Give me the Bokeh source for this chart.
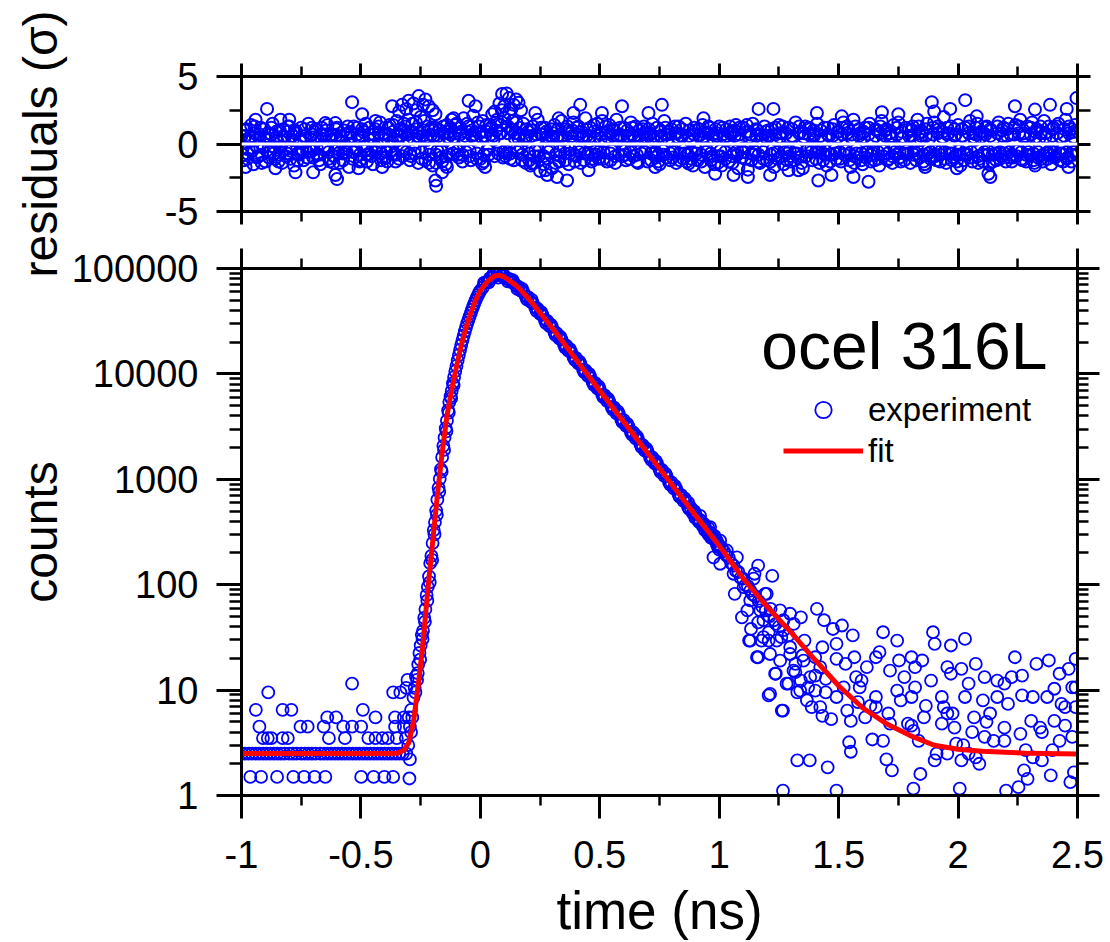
import sys
import math
from bokeh.plotting import figure
from bokeh.models import (Range1d, LinearAxis, LogAxis, FixedTicker,
                          CustomJSTickFormatter, ColumnDataSource, Legend,
                          LegendItem, Label, Span)
from bokeh.layouts import column, row
from bokeh.embed import file_html
from bokeh.resources import INLINE

FONT = "Liberation Sans"
BLUE = "#0000FF"
RED = "#FF0000"

# ---------------- axis ticks ----------------
x_ticks = [-1, -0.5, 0, 0.5, 1, 1.5, 2, 2.5]
x_minor = [-0.75, -0.25, 0.25, 0.75, 1.25, 1.75, 2.25]
res_ticks = [-5, 0, 5]
res_minor = [-2.5, 2.5]
count_ticks = [1, 10, 100, 1000, 10000, 100000]
count_minor = [2, 3, 4, 5, 6, 7, 8, 9, 20, 30, 40, 50, 60, 70, 80, 90,
               200, 300, 400, 500, 600, 700, 800, 900,
               2000, 3000, 4000, 5000, 6000, 7000, 8000, 9000,
               20000, 30000, 40000, 50000, 60000, 70000, 80000, 90000]

# ---------------- fit curve ----------------
fit_t = [-1.0, -0.4, -0.35, -0.32, -0.30, -0.28, -0.26, -0.24, -0.22, -0.20,
         -0.18, -0.16, -0.14, -0.12, -0.10, -0.08, -0.06, -0.04, -0.02, 0.0,
         0.03, 0.06, 0.08, 0.10, 0.15, 0.20, 0.25, 0.30, 0.40, 0.50,
         0.60, 0.70, 0.80, 0.90, 1.00, 1.10, 1.20, 1.30, 1.40, 1.50,
         1.60, 1.70, 1.80, 1.90, 2.00, 2.10, 2.20, 2.30, 2.50]
fit_c = [2.5, 2.5, 2.51, 2.69, 3.16, 5.0, 11.2, 28.2, 89, 251,
         708, 1778, 3981, 7079, 11749, 18621, 27542, 38019, 50119, 61660,
         75858, 85114, 86100, 83176, 69183, 52481, 38019, 27542, 13804, 6918,
         3508, 1778, 902, 457, 234, 115, 62, 35.5, 19.5, 11.0,
         6.8, 4.8, 3.7, 3.0, 2.75, 2.63, 2.57, 2.51, 2.48]

# ---------------- experiment: flat pre-peak region ----------------
flat_t = [-1.000, -0.985, -0.970, -0.955, -0.940, -0.925, -0.910, -0.895, -0.880, -0.865,
          -0.850, -0.835, -0.820, -0.800, -0.785, -0.770, -0.750, -0.735, -0.720, -0.705,
          -0.690, -0.670, -0.655, -0.640, -0.625, -0.610, -0.595, -0.580, -0.565, -0.550,
          -0.535, -0.520, -0.505, -0.490, -0.475, -0.460, -0.445, -0.430, -0.415, -0.400,
          -0.385, -0.370, -0.355, -0.340, -0.325, -0.310,
          -0.963, -0.918, -0.851, -0.783, -0.738, -0.694, -0.649, -0.499, -0.447, -0.402, -0.365, -0.297,
          -0.910, -0.890, -0.875, -0.828, -0.806, -0.634, -0.567, -0.469, -0.439, -0.410, -0.387, -0.350,
          -0.925, -0.753, -0.723, -0.656, -0.574, -0.537, -0.499, -0.357, -0.320,
          -0.641, -0.604, -0.439, -0.357, -0.320,
          -0.940, -0.828, -0.791, -0.492,
          -0.888, -0.365, -0.335,
          -0.537,
          -0.305, -0.310, -0.300, -0.295, -0.302, -0.290, -0.312]
flat_c = [2.5, 2.5, 2.5, 2.5, 2.5, 2.5, 2.5, 2.5, 2.5, 2.5,
          2.5, 2.5, 2.5, 2.5, 2.5, 2.5, 2.5, 2.5, 2.5, 2.5,
          2.5, 2.5, 2.5, 2.5, 2.5, 2.5, 2.5, 2.5, 2.5, 2.5,
          2.5, 2.5, 2.5, 2.5, 2.5, 2.5, 2.5, 2.5, 2.5, 2.5,
          2.5, 2.5, 2.5, 2.5, 2.5, 2.5,
          1.5, 1.5, 1.5, 1.5, 1.5, 1.5, 1.5, 1.5, 1.5, 1.5, 1.5, 1.45,
          3.5, 3.5, 3.5, 3.5, 3.5, 3.5, 3.5, 3.5, 3.5, 3.5, 3.5, 3.5,
          4.5, 4.5, 4.5, 4.5, 4.5, 4.5, 4.5, 4.5, 4.5,
          5.5, 5.5, 5.5, 5.5, 5.5,
          6.5, 6.5, 6.5, 6.5,
          9.5, 9.5, 9.5,
          11.5,
          12.5, 10.5, 5.5, 2.2, 3.0, 4.0, 3.5]

# ---------------- experiment: rising edge ----------------
rise_t = [-0.295, -0.290, -0.285, -0.280, -0.275, -0.270, -0.265, -0.260, -0.255, -0.250,
          -0.245, -0.240, -0.235, -0.230, -0.225, -0.220, -0.215, -0.210, -0.205, -0.200,
          -0.195, -0.190, -0.185, -0.180, -0.175, -0.170, -0.165, -0.160, -0.155, -0.150,
          -0.145, -0.140, -0.135, -0.130, -0.125, -0.120, -0.115, -0.110, -0.105, -0.100,
          -0.095, -0.090, -0.085, -0.080, -0.075, -0.070, -0.065, -0.060, -0.055, -0.050,
          -0.045, -0.040, -0.035, -0.030, -0.025, -0.020, -0.015, -0.010, -0.005, 0.000,
          -0.272, -0.262, -0.252, -0.242, -0.232, -0.222, -0.212, -0.202, -0.192, -0.182,
          -0.172, -0.162, -0.152, -0.142, -0.132, -0.122, -0.112]
rise_c = [4.5, 6.5, 5.5, 8.5, 10.5, 13.5, 12.5, 17.5, 22.5, 26.5,
          33.5, 36.5, 48.5, 58.5, 79.5, 95.5, 120, 160, 188, 248,
          330, 392, 505, 640, 830, 1010, 1240, 1620, 2080, 2480,
          3050, 3600, 4500, 5400, 6120, 6900, 8150, 9300, 10600, 11900,
          13400, 15100, 16900, 18800, 20900, 23000, 25300, 27600, 30100, 32500,
          35100, 37900, 40800, 43600, 46700, 49800, 53000, 56000, 58900, 61500,
          9.5, 14.5, 19.5, 30.5, 44.5, 70.5, 105, 172, 300, 460,
          760, 1180, 1900, 2850, 4300, 5900, 7800]

# ---------------- experiment: peak and exponential decay ----------------
band_t = [0.01, 0.02, 0.03, 0.04, 0.05, 0.06, 0.07, 0.08, 0.09, 0.10,
          0.11, 0.12, 0.13, 0.14, 0.15, 0.16, 0.17, 0.18, 0.19, 0.20,
          0.21, 0.22, 0.23, 0.24, 0.25, 0.26, 0.27, 0.28, 0.29, 0.30,
          0.31, 0.32, 0.33, 0.34, 0.35, 0.36, 0.37, 0.38, 0.39, 0.40,
          0.41, 0.42, 0.43, 0.44, 0.45, 0.46, 0.47, 0.48, 0.49, 0.50,
          0.51, 0.52, 0.53, 0.54, 0.55, 0.56, 0.57, 0.58, 0.59, 0.60,
          0.61, 0.62, 0.63, 0.64, 0.65, 0.66, 0.67, 0.68, 0.69, 0.70,
          0.71, 0.72, 0.73, 0.74, 0.75, 0.76, 0.77, 0.78, 0.79, 0.80,
          0.81, 0.82, 0.83, 0.84, 0.85, 0.86, 0.87, 0.88, 0.89, 0.90,
          0.91, 0.92, 0.93, 0.94, 0.95, 0.96, 0.97, 0.98, 0.99, 1.00]
band_c = [66000, 73500, 75500, 81000, 82500, 86500, 86000, 88000, 84500, 84500,
          80000, 79500, 74500, 73500, 68500, 67000, 61500, 60000, 54500, 53500,
          48500, 47000, 42500, 41500, 37200, 36300, 32500, 31800, 28400, 27900,
          24800, 24300, 21700, 21200, 19000, 18500, 16500, 16200, 14400, 14200,
          12600, 12400, 11000, 10800, 9600, 9420, 8380, 8230, 7300, 7180,
          6360, 6260, 5550, 5470, 4850, 4780, 4230, 4180, 3690, 3640,
          3220, 3180, 2810, 2780, 2450, 2420, 2140, 2110, 1860, 1850,
          1620, 1610, 1420, 1410, 1240, 1230, 1080, 1070, 940, 935,
          820, 815, 715, 712, 625, 620, 545, 542, 475, 472,
          415, 412, 362, 360, 316, 314, 276, 273, 241, 238]
band2_t = [0.015, 0.035, 0.055, 0.075, 0.095, 0.115, 0.135, 0.155, 0.175, 0.195,
           0.215, 0.235, 0.255, 0.275, 0.295, 0.315, 0.335, 0.355, 0.375, 0.395,
           0.415, 0.435, 0.455, 0.475, 0.495, 0.515, 0.535, 0.555, 0.575, 0.595,
           0.615, 0.635, 0.655, 0.675, 0.695, 0.715, 0.735, 0.755, 0.775, 0.795,
           0.815, 0.835, 0.855, 0.875, 0.895, 0.915, 0.935, 0.955, 0.975, 0.995,
           0.870, 0.900, 0.920, 0.940, 0.955, 0.965, 0.980, 0.990, 1.000]
band2_c = [73000, 74000, 89000, 82000, 89000, 75500, 77500, 64000, 64000, 51000,
           50300, 39700, 38500, 30400, 29400, 23300, 22500, 17800, 17200, 13600,
           13100, 10400, 9990, 7890, 7600, 6020, 5790, 4570, 4410, 3480,
           3360, 2660, 2560, 2020, 1950, 1530, 1490, 1170, 1130, 890,
           860, 680, 660, 520, 500, 395, 380, 300, 290, 228,
           600, 430, 450, 330, 345, 280, 290, 262, 215]

# ---------------- experiment: tail near the curve ----------------
tailB_t = [1.01, 1.02, 1.03, 1.04, 1.05, 1.06, 1.07, 1.08, 1.09, 1.10,
           1.11, 1.12, 1.13, 1.14, 1.15, 1.165, 1.18, 1.195, 1.21, 1.23,
           1.25, 1.27, 1.29,
           0.962, 1.004, 1.032, 1.074, 0.976, 1.004, 1.060, 1.144, 1.102, 1.199,
           1.130, 1.172, 1.255, 1.269, 1.185, 1.130, 1.185, 1.241, 1.158, 1.213,
           1.255, 1.297, 1.353, 1.311, 1.234, 1.290, 1.381, 1.423, 1.339, 1.367,
           1.423, 1.213, 1.262]
tailB_c = [222, 207, 190, 181, 160, 152, 135, 132, 116, 114,
           99, 97, 88, 81, 78, 70, 62, 57, 50, 46,
           40, 37, 33,
           352, 262, 211, 182, 182, 158, 127, 114, 95, 82,
           71, 57, 57, 46, 46, 29.5, 31.8, 29.5, 20.5, 22,
           19, 22, 19, 15.3, 14.3, 11.5, 13.3, 16.5, 9.9, 8.0,
           6.9, 9.2, 6.4]

# ---------------- experiment: scattered tail ----------------
tail_t = [1.163, 1.222, 1.148, 1.192, 1.065, 1.095, 1.118, 1.125, 1.163, 1.207,
          1.237, 1.207, 1.267, 1.282, 1.327, 1.319, 1.297, 1.342, 1.297, 1.357,
          1.409, 1.439, 1.476, 1.514, 1.559, 1.491, 1.432, 1.491, 1.566, 1.402,
          1.446, 1.372, 1.387, 1.432, 1.469, 1.491, 1.536, 1.551, 1.581, 1.596,
          1.573, 1.618, 1.656, 1.671, 1.686, 1.745, 1.715, 1.753, 1.805, 1.820,
          1.850, 1.895, 1.902, 1.970, 2.029, 1.955, 1.970, 2.014, 2.074, 1.887,
          1.820, 1.745, 1.805, 1.760, 1.656, 1.656, 1.611, 1.708, 1.715, 1.790,
          1.813, 1.857, 1.932, 1.940, 1.955, 1.985, 1.932, 2.029, 2.044, 2.067,
          2.104, 2.111, 2.164, 2.194, 2.224, 2.238, 2.268, 2.328, 2.380, 2.425,
          2.463, 2.492, 2.164, 2.209, 2.268, 2.313, 2.373, 2.433, 2.403, 2.478,
          2.194, 2.261, 2.306, 2.351, 2.403, 2.448, 2.478, 2.119, 2.111, 2.059,
          2.022, 2.074, 2.044, 1.992, 1.910, 1.902, 1.955, 2.014, 2.089, 2.283,
          2.313, 2.276, 2.291, 2.395, 2.351, 2.388, 2.470, 2.485, 2.253, 2.201,
          2.007, 1.813, 1.842, 1.723, 1.700, 1.641, 1.686, 1.544, 1.551, 1.454,
          1.327, 1.379, 1.267, 1.491, 1.805, 1.835, 1.215, 1.237, 1.163, 1.133,
          1.207, 1.177, 1.260, 1.312, 1.349, 1.402, 1.319, 1.342, 1.402, 1.446,
          1.521, 1.529, 1.588, 1.633, 1.775, 1.865, 1.977, 2.134, 2.149, 2.194,
          2.343, 2.425, 2.448, 2.492, 2.492]
tail_c = [152, 121, 127, 82, 82, 49, 57, 29.5, 20.5, 29.5,
          14.3, 8.9, 6.4, 11.5, 9.5, 17.7, 53, 49, 25.5, 29.5,
          59, 46, 38, 41, 33, 27.5, 25.5, 19.8, 20.5, 13.7,
          12.8, 10.6, 6.9, 5.7, 5.3, 8.6, 6.4, 5.1, 7.7, 12.3,
          13.3, 16.5, 20.5, 22.9, 35.4, 29.5, 15.3, 19.1, 20.5, 16.5,
          19.1, 35.4, 27.5, 26.5, 30.6, 16.5, 14.3, 15.9, 17.7, 12.3,
          10.6, 9.9, 8.6, 8.0, 8.6, 6.9, 5.5, 6.0, 4.8, 4.8,
          4.1, 5.5, 8.6, 6.9, 6.0, 4.4, 4.8, 8.6, 11.5, 5.5,
          8.0, 13.3, 12.3, 11.5, 13.3, 20.5, 13.7, 17.7, 19.1, 14.3,
          15.9, 19.8, 8.6, 7.4, 8.9, 8.6, 8.6, 7.4, 10.3, 10.6,
          4.4, 3.85, 5.1, 4.0, 5.1, 4.6, 3.6, 5.0, 3.6, 4.0,
          3.0, 2.3, 2.5, 3.1, 2.5, 2.15, 2.5, 2.15, 2.0, 2.7,
          2.3, 1.73, 1.44, 2.7, 2.15, 1.55, 1.34, 1.66, 1.2, 1.11,
          1.16, 1.16, 1.6, 1.73, 2.2, 3.4, 3.3, 3.2, 2.6, 1.85,
          2.15, 2.15, 1.11, 1.11, 4.6, 3.3, 59, 42.5, 44, 38,
          35.4, 29.5, 31.8, 42.5, 21.3, 20.5, 14.8, 12.3, 9.9, 9.5,
          10.6, 17.7, 10.6, 7.1, 13.3, 7.1, 6.0, 6.0, 3.3, 3.3,
          4.4, 3.3, 6.9, 6.9, 10.6]

# ---------------- residuals (in sigma) ----------------
res_t = [-1.00, -0.99, -0.98, -0.97, -0.96, -0.95, -0.94, -0.93, -0.92, -0.91,
         -0.90, -0.89, -0.88, -0.87, -0.86, -0.85, -0.84, -0.83, -0.82, -0.81,
         -0.80, -0.79, -0.78, -0.77, -0.76, -0.75, -0.74, -0.73, -0.72, -0.71,
         -0.70, -0.69, -0.68, -0.67, -0.66, -0.65, -0.64, -0.63, -0.62, -0.61,
         -0.60, -0.59, -0.58, -0.57, -0.56, -0.55, -0.54, -0.53, -0.52, -0.51,
         -0.50, -0.49, -0.48, -0.47, -0.46, -0.45, -0.44, -0.43, -0.42, -0.41,
         -0.40, -0.39, -0.38, -0.37, -0.36, -0.35, -0.34, -0.33, -0.32, -0.31,
         -0.30, -0.29, -0.28, -0.27, -0.26, -0.25, -0.24, -0.23, -0.22, -0.21,
         -0.20, -0.19, -0.18, -0.17, -0.16, -0.15, -0.14, -0.13, -0.12, -0.11,
         -0.10, -0.09, -0.08, -0.07, -0.06, -0.05, -0.04, -0.03, -0.02, -0.01,
         0.00, 0.01, 0.02, 0.03, 0.04, 0.05, 0.06, 0.07, 0.08, 0.09,
         0.10, 0.11, 0.12, 0.13, 0.14, 0.15, 0.16, 0.17, 0.18, 0.19,
         0.20, 0.21, 0.22, 0.23, 0.24, 0.25, 0.26, 0.27, 0.28, 0.29,
         0.30, 0.31, 0.32, 0.33, 0.34, 0.35, 0.36, 0.37, 0.38, 0.39,
         0.40, 0.41, 0.42, 0.43, 0.44, 0.45, 0.46, 0.47, 0.48, 0.49,
         0.50, 0.51, 0.52, 0.53, 0.54, 0.55, 0.56, 0.57, 0.58, 0.59,
         0.60, 0.61, 0.62, 0.63, 0.64, 0.65, 0.66, 0.67, 0.68, 0.69,
         0.70, 0.71, 0.72, 0.73, 0.74, 0.75, 0.76, 0.77, 0.78, 0.79,
         0.80, 0.81, 0.82, 0.83, 0.84, 0.85, 0.86, 0.87, 0.88, 0.89,
         0.90, 0.91, 0.92, 0.93, 0.94, 0.95, 0.96, 0.97, 0.98, 0.99,
         1.00, 1.01, 1.02, 1.03, 1.04, 1.05, 1.06, 1.07, 1.08, 1.09,
         1.10, 1.11, 1.12, 1.13, 1.14, 1.15, 1.16, 1.17, 1.18, 1.19,
         1.20, 1.21, 1.22, 1.23, 1.24, 1.25, 1.26, 1.27, 1.28, 1.29,
         1.30, 1.31, 1.32, 1.33, 1.34, 1.35, 1.36, 1.37, 1.38, 1.39,
         1.40, 1.41, 1.42, 1.43, 1.44, 1.45, 1.46, 1.47, 1.48, 1.49,
         1.50, 1.51, 1.52, 1.53, 1.54, 1.55, 1.56, 1.57, 1.58, 1.59,
         1.60, 1.61, 1.62, 1.63, 1.64, 1.65, 1.66, 1.67, 1.68, 1.69,
         1.70, 1.71, 1.72, 1.73, 1.74, 1.75, 1.76, 1.77, 1.78, 1.79,
         1.80, 1.81, 1.82, 1.83, 1.84, 1.85, 1.86, 1.87, 1.88, 1.89,
         1.90, 1.91, 1.92, 1.93, 1.94, 1.95, 1.96, 1.97, 1.98, 1.99,
         2.00, 2.01, 2.02, 2.03, 2.04, 2.05, 2.06, 2.07, 2.08, 2.09,
         2.10, 2.11, 2.12, 2.13, 2.14, 2.15, 2.16, 2.17, 2.18, 2.19,
         2.20, 2.21, 2.22, 2.23, 2.24, 2.25, 2.26, 2.27, 2.28, 2.29,
         2.30, 2.31, 2.32, 2.33, 2.34, 2.35, 2.36, 2.37, 2.38, 2.39,
         2.40, 2.41, 2.42, 2.43, 2.44, 2.45, 2.46, 2.47, 2.48, 2.49,
         2.50]
res_v = [0.6, -1.2, 1.1, -0.4, 1.4, -1.5, 0.3, -0.9, 1.2, -0.2,
         -1.3, 0.8, -0.6, 1.5, -1.1, 0.2, 1.0, -1.4, 0.5, -0.7,
         1.3, -0.3, -1.6, 0.9, -0.8, 1.2, -1.2, 0.4, 1.5, -0.5,
         -1.0, 1.1, 0.3, -1.5, 0.7, -0.2, 1.4, -1.3, 0.6, -0.9,
         1.2, -1.4, 0.1, 1.0, -0.6, -1.7, 0.8, 1.3, -0.4, 0.5,
         -1.2, 0.9, 1.5, -0.8, 0.3, -1.5, 1.1, -0.1, 1.6, -1.0,
         0.7, -1.3, 1.4, 0.2, -0.7, 1.7, -1.1, 0.9, 1.5, -0.6,
         1.8, -0.9, 0.4, 1.6, -1.4, 2.0, 0.6, -1.2, 1.3, -0.3,
         -1.6, 1.2, -0.5, 1.0, -1.3, 0.3, 1.4, -0.8, 1.8, 0.5,
         1.5, -1.0, 0.9, 1.9, -0.6, 1.3, -1.2, 2.1, 0.4, 1.6,
         -1.1, 1.7, 0.6, -0.4, 1.4, 2.2, -0.9, 1.8, 0.8, 2.5,
         1.9, -0.7, 2.3, 1.1, -1.2, 1.6, 0.4, -0.3, 1.5, -1.4,
         0.9, -1.6, 1.3, -0.5, 1.8, -2.0, 0.7, 1.2, -1.1, 0.3,
         -1.8, 1.4, 0.5, -1.3, 1.7, -0.2, 1.1, -1.5, 0.8, 1.6,
         -0.9, 1.3, -1.4, 0.6, 1.9, -0.7, 1.2, -1.1, 0.4, 1.5,
         -1.0, 1.7, 0.2, -1.3, 1.4, -0.5, 1.0, 1.8, -0.8, 0.6,
         1.2, -1.2, 0.5, 1.6, -0.9, 1.3, -1.4, 0.3, 1.1, -0.6,
         -1.3, 0.8, 1.5, -0.7, 1.2, -1.5, 0.4, 1.7, -1.0, 0.9,
         1.1, -0.5, -1.4, 1.3, 0.6, -1.1, 1.5, -0.8, 0.2, -1.6,
         1.0, -1.2, 0.7, 1.4, -1.7, 0.3, 1.2, -0.9, -1.5, 0.8,
         1.3, -1.6, 0.5, 1.1, -1.3, 0.9, -0.7, 1.4, -1.8, 0.2,
         1.2, -1.1, -1.9, 0.7, 1.5, -0.6, 1.0, -1.4, 0.4, 1.3,
         -1.2, 0.6, 1.1, -1.7, 0.3, 1.4, -0.9, -1.5, 0.8, 1.2,
         -1.3, 0.5, 1.6, -1.0, 0.9, -1.8, 1.3, -0.4, 1.1, -1.2,
         0.7, 1.5, -1.4, 0.2, 1.2, -1.6, 0.6, -0.8, 1.4, -1.1,
         0.9, -1.3, 1.6, -0.5, 1.1, -1.7, 0.4, 1.3, -1.0, 0.8,
         -1.5, 1.2, -0.6, 1.5, 0.3, -1.2, 1.0, -1.6, 1.7, -0.4,
         1.1, -1.1, 0.6, 1.4, -0.8, 1.6, -1.3, 0.5, 1.2, -0.7,
         -1.4, 1.3, 0.2, 1.8, -1.0, 0.9, -1.5, 1.5, 0.4, -0.9,
         1.6, -1.2, 1.1, -0.5, 2.0, -1.4, 0.8, 1.3, -1.0, 0.7,
         1.4, -1.6, 0.6, 1.2, -0.8, 1.7, -1.3, 0.3, 1.5, -1.1,
         0.9, -0.6, 1.3, -1.5, 1.0, 0.4, -1.2, 1.6, -0.9, 1.2,
         -1.3, 1.5, 0.7, -1.0, 1.4, -0.5, 1.8, -1.2, 0.6, 1.3,
         -0.8, 1.6, -1.4, 1.1, 0.4, -1.1, 1.7, -0.7, 1.3, -1.5,
         1.2, -0.9, 1.5, 0.5, -1.3, 1.8, -1.0, 1.1, -0.6, 1.4,
         0.9]
# channels in between the ones above: two residual readings per time
res2_t = [-0.995, -0.985, -0.975, -0.965, -0.955, -0.945, -0.935, -0.925, -0.915, -0.905,
          -0.895, -0.885, -0.875, -0.865, -0.855, -0.845, -0.835, -0.825, -0.815, -0.805,
          -0.795, -0.785, -0.775, -0.765, -0.755, -0.745, -0.735, -0.725, -0.715, -0.705,
          -0.695, -0.685, -0.675, -0.665, -0.655, -0.645, -0.635, -0.625, -0.615, -0.605,
          -0.595, -0.585, -0.575, -0.565, -0.555, -0.545, -0.535, -0.525, -0.515, -0.505,
          -0.495, -0.485, -0.475, -0.465, -0.455, -0.445, -0.435, -0.425, -0.415, -0.405,
          -0.395, -0.385, -0.375, -0.365, -0.355, -0.345, -0.335, -0.325, -0.315, -0.305,
          -0.295, -0.285, -0.275, -0.265, -0.255, -0.245, -0.235, -0.225, -0.215, -0.205,
          -0.195, -0.185, -0.175, -0.165, -0.155, -0.145, -0.135, -0.125, -0.115, -0.105,
          -0.095, -0.085, -0.075, -0.065, -0.055, -0.045, -0.035, -0.025, -0.015, -0.005,
          0.005, 0.015, 0.025, 0.035, 0.045, 0.055, 0.065, 0.075, 0.085, 0.095,
          0.105, 0.115, 0.125, 0.135, 0.145, 0.155, 0.165, 0.175, 0.185, 0.195,
          0.205, 0.215, 0.225, 0.235, 0.245, 0.255, 0.265, 0.275, 0.285, 0.295,
          0.305, 0.315, 0.325, 0.335, 0.345, 0.355, 0.365, 0.375, 0.385, 0.395,
          0.405, 0.415, 0.425, 0.435, 0.445, 0.455, 0.465, 0.475, 0.485, 0.495,
          0.505, 0.515, 0.525, 0.535, 0.545, 0.555, 0.565, 0.575, 0.585, 0.595,
          0.605, 0.615, 0.625, 0.635, 0.645, 0.655, 0.665, 0.675, 0.685, 0.695,
          0.705, 0.715, 0.725, 0.735, 0.745, 0.755, 0.765, 0.775, 0.785, 0.795,
          0.805, 0.815, 0.825, 0.835, 0.845, 0.855, 0.865, 0.875, 0.885, 0.895,
          0.905, 0.915, 0.925, 0.935, 0.945, 0.955, 0.965, 0.975, 0.985, 0.995,
          1.005, 1.015, 1.025, 1.035, 1.045, 1.055, 1.065, 1.075, 1.085, 1.095,
          1.105, 1.115, 1.125, 1.135, 1.145, 1.155, 1.165, 1.175, 1.185, 1.195,
          1.205, 1.215, 1.225, 1.235, 1.245, 1.255, 1.265, 1.275, 1.285, 1.295,
          1.305, 1.315, 1.325, 1.335, 1.345, 1.355, 1.365, 1.375, 1.385, 1.395,
          1.405, 1.415, 1.425, 1.435, 1.445, 1.455, 1.465, 1.475, 1.485, 1.495,
          1.505, 1.515, 1.525, 1.535, 1.545, 1.555, 1.565, 1.575, 1.585, 1.595,
          1.605, 1.615, 1.625, 1.635, 1.645, 1.655, 1.665, 1.675, 1.685, 1.695,
          1.705, 1.715, 1.725, 1.735, 1.745, 1.755, 1.765, 1.775, 1.785, 1.795,
          1.805, 1.815, 1.825, 1.835, 1.845, 1.855, 1.865, 1.875, 1.885, 1.895,
          1.905, 1.915, 1.925, 1.935, 1.945, 1.955, 1.965, 1.975, 1.985, 1.995,
          2.005, 2.015, 2.025, 2.035, 2.045, 2.055, 2.065, 2.075, 2.085, 2.095,
          2.105, 2.115, 2.125, 2.135, 2.145, 2.155, 2.165, 2.175, 2.185, 2.195,
          2.205, 2.215, 2.225, 2.235, 2.245, 2.255, 2.265, 2.275, 2.285, 2.295,
          2.305, 2.315, 2.325, 2.335, 2.345, 2.355, 2.365, 2.375, 2.385, 2.395,
          2.405, 2.415, 2.425, 2.435, 2.445, 2.455, 2.465, 2.475, 2.485, 2.495]
res2_v = [-0.8, 1.0, -1.1, 0.5, -0.3, 1.3, -1.0, 0.7, -1.4, 1.1,
          0.4, -1.0, 1.2, -0.7, 0.9, -1.3, -0.2, 1.1, -0.9, 1.3,
          -1.1, 0.6, 1.0, -1.2, 0.4, -0.6, 1.1, -1.0, -0.3, 1.2,
          0.9, -0.8, -1.2, 1.2, -0.4, 1.0, -1.1, 0.7, -1.4, 1.1,
          -0.7, 0.6, -1.2, -0.3, 1.3, 0.9, -1.1, -0.6, 1.2, -1.3,
          1.1, -0.5, -1.3, 1.2, -0.9, 0.7, -0.6, 1.3, -1.2, 0.8,
          -1.0, 1.2, -0.5, 1.4, -1.3, 0.6, 1.1, -0.9, 1.3, 0.7,
          -1.2, 1.5, -0.7, 1.1, 0.8, -1.1, 1.7, 0.5, -1.4, 1.2,
          1.0, -1.4, 0.6, -1.0, 1.3, -1.5, 0.9, 1.2, -0.7, 1.4,
          -0.8, 1.2, -1.3, 0.6, 1.5, -0.9, 1.0, 0.7, -1.1, 1.3,
          0.9, -1.3, 1.4, -0.8, 1.2, 0.6, 1.6, -0.7, 1.4, -1.0,
          -0.9, 1.3, -1.1, 1.7, 0.8, -0.6, 1.2, -1.2, 0.5, 1.1,
          -1.2, 1.0, -1.4, 0.7, -0.9, 1.2, -1.5, 0.9, -0.6, 1.1,
          0.8, -1.4, 1.1, -0.9, 0.6, -1.2, 1.3, -0.7, 1.0, -1.3,
          1.2, -0.6, 0.9, -1.2, 1.1, 0.5, -1.3, 1.4, -0.8, -1.1,
          0.7, -1.1, 1.3, 0.9, -1.2, 1.1, -1.4, 0.6, 1.2, -0.9,
          -0.8, 1.0, -1.1, 1.2, 0.6, -1.3, 1.0, -0.7, 1.3, 0.8,
          1.1, -1.2, 0.6, -1.0, -1.3, 1.0, -0.8, 1.2, 0.7, -1.2,
          -1.0, 1.3, 0.8, -1.2, 1.1, -0.7, -1.3, 1.0, -1.1, 1.2,
          -0.7, 1.1, -1.3, 0.9, -0.6, 1.3, -1.2, 0.7, 1.1, -1.4,
          -0.9, 1.2, -1.1, 0.6, 1.3, -1.4, 1.0, -0.8, 1.2, -1.0,
          -0.6, 1.4, 0.9, -1.2, -0.8, 1.1, -1.3, 0.7, -1.1, 0.9,
          1.0, -1.3, -0.7, 1.2, -1.1, 0.8, 1.3, -0.6, -1.2, -0.9,
          1.1, -1.2, -0.7, 1.3, -1.4, 0.8, -0.9, 1.2, -0.6, 1.0,
          -1.1, -0.6, 1.0, -1.2, -0.8, 1.2, -1.3, 1.1, -0.7, 0.9,
          -1.1, 1.2, -0.8, 1.3, -1.2, 0.7, -1.4, -0.7, 1.1, -1.2,
          0.9, -1.0, 1.2, -1.3, -0.7, 1.1, -1.1, 1.3, -0.9, 1.0,
          -1.2, 0.8, -1.4, -0.6, 1.2, -1.0, 0.9, -1.2, -0.8, 1.1,
          1.0, -0.8, -1.2, 1.3, 0.6, -1.3, 1.1, -0.7, -1.1, 1.2,
          -0.9, 1.3, -1.3, 0.9, -1.1, 1.2, -0.7, -1.2, 1.1, -1.3,
          -0.8, 1.1, -1.2, -0.7, 1.3, -1.0, 0.8, 1.2, -1.4, 0.9,
          -1.3, 1.2, -0.8, 1.1, -1.3, -0.7, 1.3, -1.1, 1.0, -0.7,
          1.1, -1.0, -1.3, 1.2, -0.9, 1.3, -1.1, 0.8, -1.3, -0.6,
          1.2, -1.2, 0.9, -1.0, 1.3, -1.3, 0.8, -1.1, -0.8, 1.1,
          -1.0, 1.3, -1.2, -0.7, 1.1, -1.1, 1.3, -1.3, 0.9, -0.8]
res3_v = [-0.3, 0.6, -0.7, 0.2, -0.5, 0.8, -0.2, 0.4, -0.8, 0.5,
          0.3, -0.6, 0.7, -0.2, 0.5, -0.8, 0.2, 0.6, -0.4, 0.9,
          -0.5, 0.3, 0.8, -0.7, 0.2, -0.4, 0.6, -0.6, -0.2, 0.7,
          0.5, -0.3, -0.8, 0.4, -0.2, 0.7, -0.6, 0.3, -0.9, 0.6,
          -0.4, 0.2, -0.7, -0.1, 0.8, 0.5, -0.6, -0.3, 0.7, -0.8,
          0.6, -0.2, -0.8, 0.7, -0.5, 0.4, -0.3, 0.8, -0.7, 0.3,
          -0.6, 0.7, -0.2, 0.9, -0.8, 0.3, 0.6, -0.5, 0.8, 0.4,
          -0.7, 0.9, -0.4, 0.6, 0.5, -0.6, 1.0, 0.3, -0.8, 0.7,
          0.6, -0.8, 0.3, -0.5, 0.8, -0.9, 0.5, 0.7, -0.4, 0.8,
          -0.5, 0.7, -0.8, 0.3, 0.9, -0.5, 0.6, 0.4, -0.7, 0.8,
          0.5, -0.8, 0.9, -0.4, 0.7, 0.3, 1.0, -0.4, 0.8, -0.6,
          -0.5, 0.8, -0.7, 1.0, 0.4, -0.3, 0.7, -0.8, 0.3, 0.6,
          -0.7, 0.6, -0.9, 0.4, -0.5, 0.7, -0.9, 0.5, -0.3, 0.6,
          0.5, -0.8, 0.6, -0.5, 0.3, -0.7, 0.8, -0.4, 0.6, -0.8,
          0.7, -0.3, 0.5, -0.7, 0.6, 0.2, -0.8, 0.9, -0.5, -0.6,
          0.4, -0.6, 0.8, 0.5, -0.7, 0.6, -0.9, 0.3, 0.7, -0.5,
          -0.5, 0.6, -0.6, 0.7, 0.3, -0.8, 0.6, -0.4, 0.8, 0.5,
          0.6, -0.7, 0.3, -0.6, -0.8, 0.6, -0.5, 0.7, 0.4, -0.7,
          -0.6, 0.8, 0.5, -0.7, 0.6, -0.4, -0.8, 0.6, -0.6, 0.7,
          -0.4, 0.6, -0.8, 0.5, -0.3, 0.8, -0.7, 0.4, 0.6, -0.9,
          -0.5, 0.7, -0.6, 0.3, 0.8, -0.9, 0.6, -0.5, 0.7, -0.6,
          -0.3, 0.9, 0.5, -0.7, -0.5, 0.6, -0.8, 0.4, -0.6, 0.5,
          0.6, -0.8, -0.4, 0.7, -0.6, 0.5, 0.8, -0.3, -0.7, -0.5,
          0.6, -0.7, -0.4, 0.8, -0.9, 0.5, -0.5, 0.7, -0.3, 0.6,
          -0.6, -0.3, 0.6, -0.7, -0.5, 0.7, -0.8, 0.6, -0.4, 0.5,
          -0.6, 0.7, -0.5, 0.8, -0.7, 0.4, -0.9, -0.4, 0.6, -0.7,
          0.5, -0.6, 0.7, -0.8, -0.4, 0.6, -0.6, 0.8, -0.5, 0.6,
          -0.7, 0.5, -0.9, -0.3, 0.7, -0.6, 0.5, -0.7, -0.5, 0.6,
          0.6, -0.5, -0.7, 0.8, 0.3, -0.8, 0.6, -0.4, -0.6, 0.7,
          -0.5, 0.8, -0.8, 0.5, -0.6, 0.7, -0.4, -0.7, 0.6, -0.8,
          -0.5, 0.6, -0.7, -0.4, 0.8, -0.6, 0.5, 0.7, -0.9, 0.5,
          -0.8, 0.7, -0.5, 0.6, -0.8, -0.4, 0.8, -0.6, 0.6, -0.4,
          0.6, -0.6, -0.8, 0.7, -0.5, 0.8, -0.6, 0.5, -0.8, -0.3,
          0.7, -0.7, 0.5, -0.6, 0.8, -0.8, 0.5, -0.6, -0.5, 0.6,
          -0.6, 0.8, -0.7, -0.4, 0.6, -0.6, 0.8, -0.8, 0.5, -0.5]
res_out_t = [-0.941, -0.893, -0.837, -0.800, -0.649, -0.607, -0.537, -0.495, -0.439, -0.369,
             -0.328, -0.300, -0.258, -0.216, -0.188, -0.112, -0.049, -0.020, 0.091, 0.110,
             0.150, 0.160, 0.230, 0.328, 0.390, 0.418, 0.509, 0.593, 0.704, 0.760,
             0.934, 1.165, 1.227, 1.409, 1.513, 1.562, 1.681, 1.750, 1.890, 1.900,
             1.967, 2.030, 2.078, 2.238, 2.322, 2.385, 2.455, 2.496, -0.340, -0.310,
             -0.280, -0.270, -0.240, -0.230, -0.200, 0.060, 0.080, 0.100, 0.120, 0.130,
             0.140, 0.170,
             -0.983, -0.858, -0.774, -0.700, -0.607, -0.600, -0.510, -0.411, -0.188, -0.185,
             -0.160, -0.140, 0.007, 0.020, 0.216, 0.272, 0.280, 0.321, 0.363, 0.453,
             0.732, 0.872, 0.983, 1.060, 1.120, 1.213, 1.290, 1.332, 1.415, 1.470,
             1.562, 1.625, 1.862, 1.995, 2.127, 2.135, 2.322, 2.462]
res_out_v = [1.8, 2.6, 1.8, 1.8, 1.55, 1.55, 3.1, 2.2, 1.7, 2.8,
             2.9, 3.2, 3.55, 2.8, 2.2, 1.9, 3.2, 2.8, 3.7, 3.75,
             3.3, 3.05, 2.3, 1.9, 2.3, 2.9, 2.3, 2.8, 2.3, 2.9,
             1.9, 2.6, 2.6, 2.3, 2.05, 1.8, 2.35, 2.2, 3.1, 2.4,
             2.6, 3.25, 2.05, 2.8, 2.55, 2.9, 2.6, 3.4, 2.4, 2.6,
             3.0, 2.5, 2.9, 3.3, 2.5, 2.4, 3.0, 2.8, 3.4, 2.6,
             2.9, 2.5,
             -1.7, -1.8, -2.1, -2.1, -2.3, -2.6, -1.8, -1.7, -2.7, -3.1,
             -2.1, -1.7, -1.45, -1.7, -1.45, -1.95, -2.3, -2.45, -2.7, -1.95,
             -1.7, -1.45, -2.2, -2.3, -2.45, -2.3, -1.95, -1.95, -2.7, -2.3,
             -2.45, -2.8, -1.7, -1.8, -2.2, -2.45, -1.6, -1.7]


def pair(a, b, name):
    n = min(len(a), len(b))
    if len(a) != len(b):
        print("length mismatch", name, len(a), len(b), file=sys.stderr)
    return list(a[:n]), list(b[:n])


parts = [pair(flat_t, flat_c, "flat"), pair(rise_t, rise_c, "rise"),
         pair(band_t, band_c, "band"), pair(band2_t, band2_c, "band2"),
         pair(tailB_t, tailB_c, "tailB"), pair(tail_t, tail_c, "tail")]
exp_t, exp_c = [], []
for a, b in parts:
    exp_t += a
    exp_c += b
all_res_t, all_res_v = [], []
for a, b in [pair(res_t, res_v, "res"), pair(res2_t, res2_v, "res2"),
             pair(res2_t, res3_v, "res3"),
             pair(res_out_t, res_out_v, "resout")]:
    all_res_t += a
    all_res_v += b
ft, fc = pair(fit_t, fit_c, "fit")

exp_src = ColumnDataSource(dict(t=exp_t, c=exp_c))
fit_src = ColumnDataSource(dict(t=ft, c=fc))
res_src = ColumnDataSource(dict(t=all_res_t, v=all_res_v))

LABW = 68            # width of the strip holding the y-axis titles
LEFT, RIGHT = 241 - LABW, 30
FW = 836
TOTAL_H = 941


def style_axis(ax, major_out, minor_out, labels=True, fmt=None):
    ax.axis_line_color = "black"
    ax.axis_line_width = 3
    ax.major_tick_line_color = "black"
    ax.major_tick_line_width = 3
    ax.minor_tick_line_color = "black"
    ax.minor_tick_line_width = 2.5
    ax.major_tick_in = 0
    ax.minor_tick_in = 0
    ax.major_tick_out = major_out
    ax.minor_tick_out = minor_out
    ax.major_label_text_font = FONT
    ax.major_label_text_color = "black"
    ax.axis_label_text_font = FONT
    ax.axis_label_text_font_style = "normal"
    ax.axis_label_text_color = "black"
    if labels:
        ax.major_label_text_font_size = "38px"
        if fmt is not None:
            ax.formatter = fmt
    else:
        ax.formatter = CustomJSTickFormatter(code="return ''")
        ax.major_label_text_font_size = "1px"
        ax.major_label_standoff = 0
    return ax


num_fmt = "return String(tick)"

# ---------------- top: residuals ----------------
top = figure(frame_width=FW, frame_height=135,
             x_range=Range1d(-1, 2.5), y_range=Range1d(-5, 5),
             x_axis_location=None, y_axis_location=None,
             output_backend="svg", toolbar_location=None,
             min_border_left=LEFT, min_border_right=RIGHT,
             min_border_top=76, min_border_bottom=28)
top.outline_line_color = None
top.grid.visible = False
top.background_fill_color = "white"
top.border_fill_color = "white"

ax = LinearAxis(ticker=FixedTicker(ticks=res_ticks, minor_ticks=res_minor))
style_axis(ax, 25, 12, True, CustomJSTickFormatter(code=num_fmt))
ax.major_label_standoff = 18
top.add_layout(ax, "left")
ax = LinearAxis(ticker=FixedTicker(ticks=res_ticks, minor_ticks=res_minor))
style_axis(ax, 13, 13, False)
top.add_layout(ax, "right")
ax = LinearAxis(ticker=FixedTicker(ticks=x_ticks, minor_ticks=x_minor))
style_axis(ax, 13, 10, False)
top.add_layout(ax, "above")
ax = LinearAxis(ticker=FixedTicker(ticks=x_ticks, minor_ticks=x_minor))
style_axis(ax, 13, 10, False)
top.add_layout(ax, "below")

top.scatter(x="t", y="v", source=res_src, marker="circle", size=12,
            fill_color=None, line_color=BLUE, line_width=2)
top.add_layout(Span(location=0, dimension="width", line_color="white",
                    line_width=3))

# ---------------- bottom: counts ----------------
bot = figure(frame_width=FW, frame_height=527,
             x_range=Range1d(-1, 2.5), y_range=Range1d(1, 100000),
             y_axis_type="log",
             x_axis_location=None, y_axis_location=None,
             output_backend="svg", toolbar_location=None,
             min_border_left=LEFT, min_border_right=RIGHT,
             min_border_top=29, min_border_bottom=140)
bot.outline_line_color = None
bot.grid.visible = False
bot.background_fill_color = "white"
bot.border_fill_color = "white"

ax = LogAxis(ticker=FixedTicker(ticks=count_ticks, minor_ticks=count_minor))
style_axis(ax, 25, 12, True, CustomJSTickFormatter(code=num_fmt))
ax.major_label_standoff = 18
bot.add_layout(ax, "left")
ax = LogAxis(ticker=FixedTicker(ticks=count_ticks, minor_ticks=count_minor))
style_axis(ax, 22, 11, False)
bot.add_layout(ax, "right")
ax = LinearAxis(ticker=FixedTicker(ticks=x_ticks, minor_ticks=x_minor))
style_axis(ax, 20, 10, False)
bot.add_layout(ax, "above")
ax = LinearAxis(ticker=FixedTicker(ticks=x_ticks, minor_ticks=x_minor))
style_axis(ax, 23, 10, True, CustomJSTickFormatter(code=num_fmt))
ax.major_label_standoff = 22
ax.axis_label = "time (ns)"
ax.axis_label_text_font_size = "53px"
ax.axis_label_standoff = 10
bot.add_layout(ax, "below")

sc = bot.scatter(x="t", y="c", source=exp_src, marker="circle", size=12,
                 fill_color=None, line_color=BLUE, line_width=1.8)
ln = bot.line(x="t", y="c", source=fit_src, line_color=RED, line_width=5)

legend = Legend(items=[LegendItem(label="experiment", renderers=[sc]),
                       LegendItem(label="fit", renderers=[ln])],
                location=(542, 324), orientation="vertical",
                border_line_color=None, background_fill_alpha=0,
                label_text_font=FONT, label_text_font_size="33px",
                label_text_color="black",
                glyph_width=80, glyph_height=41, label_height=41,
                label_standoff=5, spacing=0, padding=0, margin=0)
bot.add_layout(legend)

bot.add_layout(Label(x=1.176, y=18500, text="ocel 316L", text_font=FONT,
                     text_font_size="66px", text_color="black",
                     text_baseline="alphabetic", text_align="left"))

# ---------------- strip with the two y-axis titles ----------------
lab = figure(width=LABW, height=TOTAL_H, x_range=Range1d(0, 1),
             y_range=Range1d(0, 1), x_axis_location=None,
             y_axis_location=None, output_backend="svg",
             toolbar_location=None, min_border=0)
lab.outline_line_color = None
lab.grid.visible = False
lab.background_fill_color = "white"
lab.border_fill_color = "white"
for txt, yc in [("residuals (σ)", 143.5), ("counts", 531.5)]:
    lab.add_layout(Label(x=40, y=TOTAL_H - yc, x_units="screen",
                         y_units="screen", text=txt, angle=math.pi / 2,
                         text_align="center", text_baseline="middle",
                         text_font=FONT, text_font_size="48px",
                         text_color="black"))

layout = row(lab, column(top, bot, spacing=0), spacing=0)
open("out.html", "w").write(file_html(layout, INLINE, title="ocel 316L"))
